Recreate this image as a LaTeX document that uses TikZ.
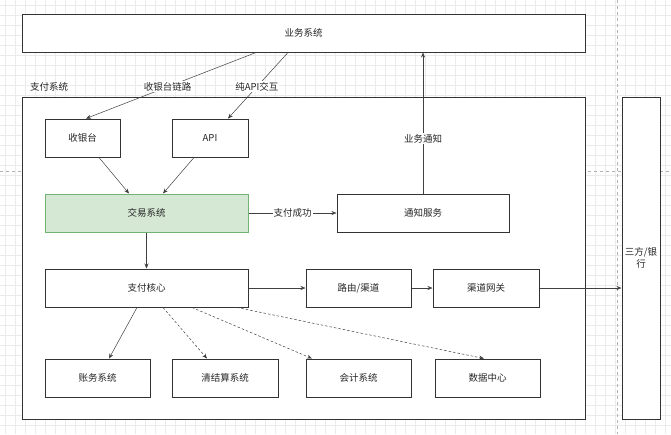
\documentclass[tikz,border=0pt]{standalone}
\usepackage{fontspec}
\setmainfont{Noto Sans CJK SC}
\usetikzlibrary{arrows.meta}
\begin{document}
\begin{tikzpicture}[x=1pt,y=-1pt,
  every node/.style={font=\fontsize{9.5}{11}\selectfont, text=black!85},
  box/.style={draw=black!80, line width=1pt, fill=white, inner sep=0pt},
  greenbox/.style={box, draw=green!45!black!55, fill={rgb,255:red,213;green,232;blue,212}},
  conn/.style={draw=black!75, line width=0.5pt, -{Stealth[length=5pt,width=4pt]}},
  dconn/.style={conn, dash pattern=on 2.5pt off 2pt},
  elabel/.style={fill=white, inner sep=1pt},
  gridline/.style={draw=black!8, line width=0.3pt},
  pagebreak/.style={draw=black!30, line width=0.4pt, dash pattern=on 3pt off 3pt}]
\useasboundingbox (0,0) rectangle (671,434);
\fill[white] (0,0) rectangle (671,434);
\foreach \i in {5,15,...,665} \draw[gridline] (\i,0) -- (\i,434);
\foreach \j in {5,15,...,430} \draw[gridline] (0,\j) -- (671,\j);
\draw[pagebreak] (617,0) -- (617,434);
\draw[pagebreak] (0,171) -- (671,171);

% containers
\node[box, minimum width=563pt, minimum height=38pt] (biz) at (303.5,33) {业务系统};
\node[box, minimum width=563pt, minimum height=322pt] (pay) at (303.5,258) {};
\node (paylbl) at (49,87) {支付系统};
\node[box, minimum width=38pt, minimum height=322pt] (bank) at (641,258) {};
\node[align=center, inner sep=0pt, font=\fontsize{9.5}{12}\selectfont] (banklbl) at (bank.center) {三方/银\\行};

% inner nodes
\node[box, minimum width=75pt, minimum height=38pt] (cashier) at (82.5,138) {收银台};
\node[box, minimum width=76pt, minimum height=38pt] (api) at (210,138) {API};
\node[greenbox, minimum width=203pt, minimum height=38pt] (trade) at (146.5,213) {交易系统};
\node[box, minimum width=172pt, minimum height=38pt] (notify) at (423,213) {通知服务};
\node[box, minimum width=203pt, minimum height=38pt] (core) at (146.5,288) {支付核心};
\node[box, minimum width=105pt, minimum height=38pt] (route) at (358.5,288) {路由/渠道};
\node[box, minimum width=106pt, minimum height=38pt] (gw) at (486,288) {渠道网关};
\node[box, minimum width=105pt, minimum height=38pt] (ledger) at (97.5,378) {账务系统};
\node[box, minimum width=106pt, minimum height=38pt] (clear) at (225,378) {清结算系统};
\node[box, minimum width=105pt, minimum height=38pt] (acct) at (358.5,378) {会计系统};
\node[box, minimum width=105pt, minimum height=38pt] (data) at (487.5,378) {数据中心};

% connectors
\draw[conn] ([xshift=-47.5pt]biz.south) -- node[elabel, pos=0.52] {收银台链路} ([xshift=3.5pt]cashier.north);
\draw[conn] ([xshift=-15.5pt]biz.south) -- node[elabel, pos=0.52] {纯API交互} ([xshift=18pt]api.north);
\draw[conn] ([xshift=16.5pt]cashier.south) -- ([xshift=-17.5pt]trade.north);
\draw[conn] ([xshift=-16pt]api.south) -- ([xshift=16.5pt]trade.north);
\draw[conn] (trade.east) -- node[elabel] {支付成功} (notify.west);
\draw[conn] (notify.north) -- node[elabel, pos=0.39] {业务通知} (notify.north |- biz.south);
\draw[conn] (trade.south) -- (core.north);
\draw[conn] (core.east) -- (route.west);
\draw[conn] (route.east) -- (gw.west);
\draw[conn] (gw.east) -- (gw.east -| bank.west);
\draw[conn] ([xshift=-9.5pt]core.south) -- ([xshift=11.5pt]ledger.north);
\draw[dconn] ([xshift=16.5pt]core.south) -- ([xshift=-18pt]clear.north);
\draw[dconn] ([xshift=45.5pt]core.south) -- ([xshift=-46.5pt]acct.north);
\draw[dconn] ([xshift=90.5pt]core.south) -- ([xshift=-3.5pt]data.north);
\end{tikzpicture}
\end{document}
